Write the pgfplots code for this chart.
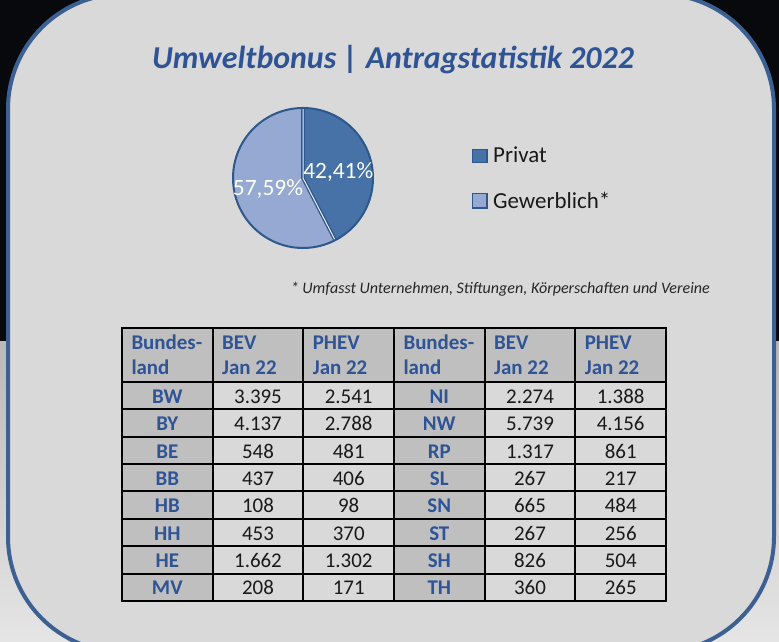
\documentclass[border=0pt]{standalone}
\usepackage{fontspec}
\setmainfont{Carlito}
\usepackage{pgfplots}
\pgfplotsset{compat=1.18}

\definecolor{boxgray}{HTML}{D9D9D9}
\definecolor{hdrgray}{HTML}{BFBFBF}
\definecolor{boxblue}{HTML}{3B6091}
\definecolor{titleblue}{HTML}{2F5496}
\definecolor{pieDark}{HTML}{4672A7}
\definecolor{pieLight}{HTML}{95A9D2}
\definecolor{pieBorder}{HTML}{2E588C}
\definecolor{bgdark}{HTML}{07090D}

% shares of applications in percent
\def\privat{42.41}
\def\gewerb{57.59}

\begin{document}
\begin{tikzpicture}[x=1bp,y=1bp]
\useasboundingbox (0,0) rectangle (779,642);

% backdrop and rounded panel
\begin{scope}
\clip (0,0) rectangle (779,642);
\fill[bgdark] (0,300) rectangle (779,642);
\shade[top color=gray!55, bottom color=gray!20] (0,0) rectangle (779,300);
\filldraw[fill=boxgray, draw=boxblue, line width=4bp, rounded corners=115bp]
  (8,-10) rectangle (774,648);
\end{scope}

\node[anchor=base, inner sep=0, text=titleblue,
  font=\fontsize{32}{38}\selectfont\bfseries\itshape]
  at (393,573) {Umweltbonus | Antragstatistik 2022};

% pie chart
\pgfmathsetmacro{\angP}{90-3.6*\privat}
\pgfmathsetmacro{\cx}{cos(\angP)}
\pgfmathsetmacro{\cy}{sin(\angP)}
\pgfmathsetmacro{\angG}{\angP-3.6*\gewerb}
\begin{axis}[
  at={(303bp,464bp)}, anchor=center,
  scale only axis, width=140bp, height=140bp,
  xmin=-1, xmax=1, ymin=-1, ymax=1,
  hide axis, clip=false,
]
\addplot[draw=none] coordinates {(0,0)};
\fill[pieDark] (axis cs:0,0) -- (axis cs:0,1)
  arc[start angle=90, end angle=\angP, radius=70bp] -- cycle;
\fill[pieLight] (axis cs:0,0) -- (axis cs:\cx,\cy)
  arc[start angle=\angP, end angle=\angG, radius=70bp] -- cycle;
\draw[pieBorder, line width=2bp] (axis cs:0,0) circle[radius=70bp];
\draw[pieBorder, line width=3.6bp] (axis cs:0,1) -- (axis cs:0,0) -- (axis cs:\cx,\cy);
\draw[white!80!pieLight, line width=1bp] (axis cs:0,0.985) -- (axis cs:0,0)
  -- (axis cs:0.985*\cx,0.985*\cy);
\node[anchor=base, inner sep=0, text=white, font=\fontsize{23.5}{27}\selectfont]
  at (axis cs:0.504,-0.004) {42,41\%};
\node[anchor=base, inner sep=0, text=white, font=\fontsize{23.5}{27}\selectfont]
  at (axis cs:-0.5,-0.257) {57,59\%};
\end{axis}

% legend
\filldraw[fill=pieDark, draw=pieBorder, line width=1.2bp] (472.5,479.3) rectangle (487,492.7);
\filldraw[fill=pieLight, draw=pieBorder, line width=1.2bp] (472.5,434) rectangle (487,448.3);
\node[anchor=base west, inner sep=0, text=black!90, font=\fontsize{23}{27}\selectfont]
  at (493,479.3) {Privat};
\node[anchor=base west, inner sep=0, text=black!90, font=\fontsize{23}{27}\selectfont]
  at (493,433.7) {Gewerblich*};

\node[anchor=base east, inner sep=0, text=black!85,
  font=\fontsize{16.1}{19}\selectfont\itshape]
  at (710,348) {* Umfasst Unternehmen, Stiftungen, Körperschaften und Vereine};

% table
\fill[hdrgray] (122,260) rectangle (666,314.3);
\fill[hdrgray] (122,41) rectangle (212.67,260);
\fill[hdrgray] (394,41) rectangle (484.67,260);
\foreach \k in {1,...,5}
  \draw[line width=2bp] ({122+90.67*\k},41) -- ({122+90.67*\k},314.3);
\foreach \i in {0,...,7}
  \draw[line width=2bp] (122,{260-27.375*\i}) -- (666,{260-27.375*\i});
\draw[line width=2.2bp] (122,41) rectangle (666,314.3);

\tikzset{
  hdr/.style={anchor=base west, inner sep=0, text=titleblue,
    font=\fontsize{21}{25}\selectfont\bfseries},
  lbl/.style={anchor=base, inner sep=0, text=titleblue,
    font=\fontsize{21}{25}\selectfont\bfseries},
  num/.style={anchor=base, inner sep=0, text=black!90,
    font=\fontsize{21}{25}\selectfont},
}
\foreach \k/\ta/\tb in {0/Bundes-/land, 1/BEV/Jan 22, 2/PHEV/Jan 22,
                        3/Bundes-/land, 4/BEV/Jan 22, 5/PHEV/Jan 22} {
  \node[hdr] at ({122+90.67*\k+9.3},292.7) {\ta};
  \node[hdr] at ({122+90.67*\k+9.3},267.7) {\tb};
}
\foreach \a/\b/\c/\d/\e/\f [count=\i from 0] in {
    BW/3.395/2.541/NI/2.274/1.388,
    BY/4.137/2.788/NW/5.739/4.156,
    BE/548/481/RP/1.317/861,
    BB/437/406/SL/267/217,
    HB/108/98/SN/665/484,
    HH/453/370/ST/267/256,
    HE/1.662/1.302/SH/826/504,
    MV/208/171/TH/360/265} {
  \pgfmathsetmacro{\yb}{238.7-27.375*\i}
  \node[lbl] at (167.3,\yb) {\a};
  \node[num] at (258.0,\yb) {\b};
  \node[num] at (348.7,\yb) {\c};
  \node[lbl] at (439.3,\yb) {\d};
  \node[num] at (530.0,\yb) {\e};
  \node[num] at (620.7,\yb) {\f};
}
\end{tikzpicture}
\end{document}
